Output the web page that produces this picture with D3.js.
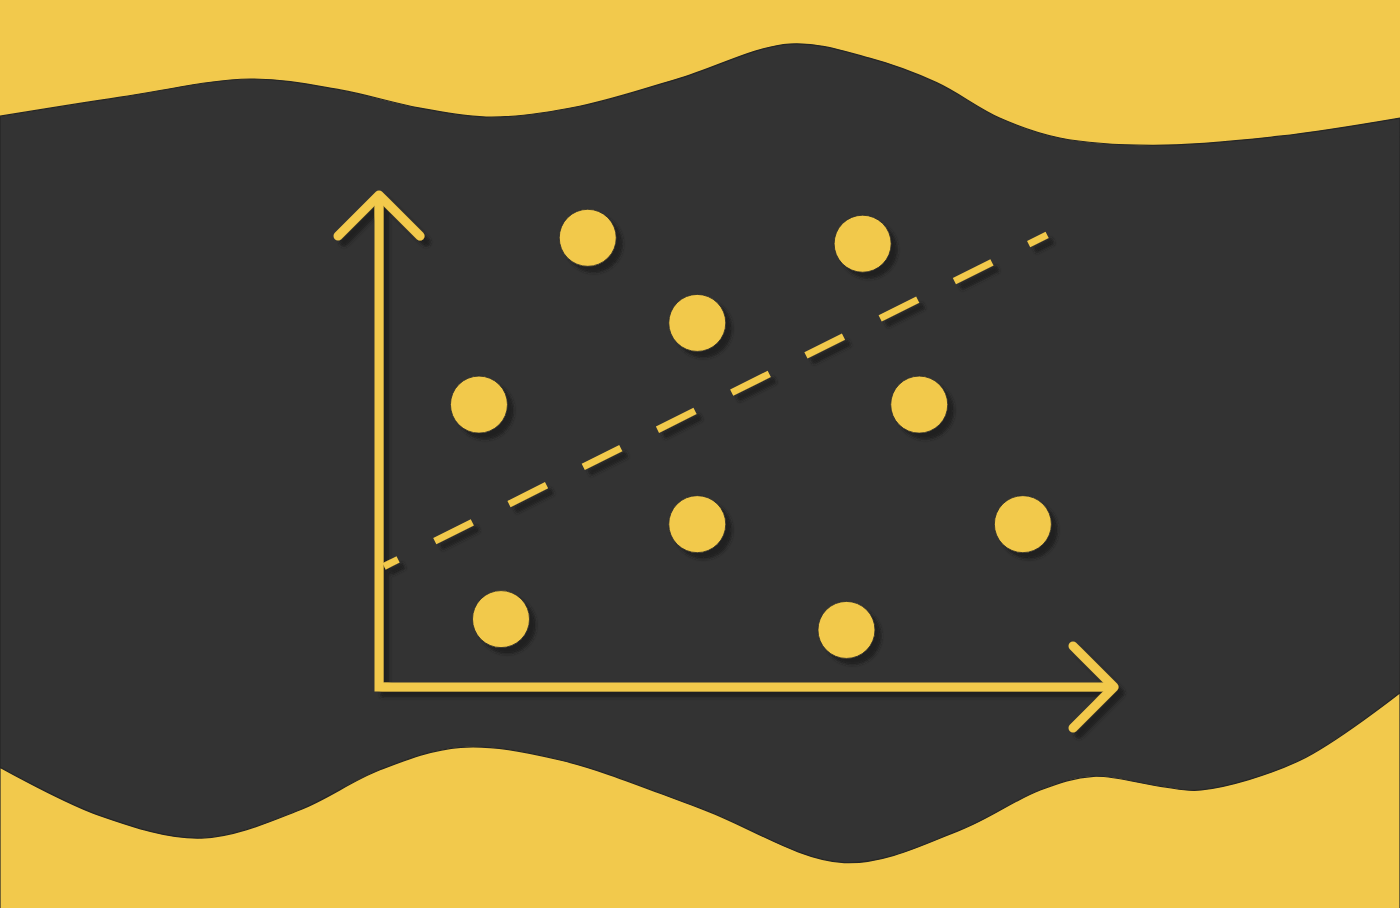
<!DOCTYPE html>
<html>
<head>
<meta charset="utf-8">
<script src="https://cdn.jsdelivr.net/npm/d3@7"></script>
<style>
html,body{margin:0;padding:0;background:#f2c94c;overflow:hidden;}
svg{display:block;}
</style>
</head>
<body>
<svg id="chart" width="1400" height="908"></svg>
<script>
// ---- data ----
const pointX = [28.4, 65.8, 43.3, 13.6, 73.5, 43.3, 87.6, 16.6, 63.6];
const pointY = [91.3, 90.1, 74.0, 57.4, 57.4, 33.1, 33.1, 13.8, 11.6];
const trendX = [0.7, 90.9];
const trendY = [24.5, 91.9];
// background band edges (percent of canvas width / height)
const waveTopX = [0, 8.6, 17.9, 24.3, 30, 35.1, 41.4, 48.6, 56.4, 62.1, 66.9, 71.4, 75.7, 82.3, 91.4, 100];
const waveTopY = [12.8, 10.7, 8.7, 9.9, 11.9, 12.9, 11.7, 8.6, 4.85, 6.4, 9.1, 13.0, 15.2, 16.0, 15.0, 13.0];
const waveBotX = [0, 7.1, 14.4, 21.4, 27.1, 32.9, 40, 50, 60.3, 68.6, 74.3, 78.1, 82.9, 85.8, 92.9, 100];
const waveBotY = [84.5, 89.8, 92.3, 89.2, 84.8, 82.3, 83.7, 89.0, 95.0, 91.4, 87.0, 85.5, 86.6, 87.0, 83.7, 76.3];

const W = 1400, H = 908;
const yellow = "#f2c94c", dark = "#333333";
const svg = d3.select("#chart");

const defs = svg.append("defs");
const f = defs.append("filter").attr("id","shadow").attr("x","-20%").attr("y","-20%").attr("width","140%").attr("height","140%");
f.append("feDropShadow").attr("dx",6).attr("dy",6).attr("stdDeviation",1.6)
  .attr("flood-color","#1a1a1a").attr("flood-opacity",0.9);

// background
const bx = d3.scaleLinear().domain([0,100]).range([0,W]);
const by = d3.scaleLinear().domain([0,100]).range([0,H]);
svg.append("rect").attr("width",W).attr("height",H).attr("fill",yellow);

const topEdge = waveTopX.map((v,i)=>[bx(v), by(waveTopY[i])]);
const botEdge = waveBotX.map((v,i)=>[bx(v), by(waveBotY[i])]);
const edgeArea = d3.area().curve(d3.curveCatmullRom.alpha(0.5)).x(d=>d[0]).y0(d=>d[1]).y1(H + 5);
svg.append("path").attr("d", edgeArea(topEdge)).attr("fill",dark)
  .attr("stroke","#262626").attr("stroke-width",1.2);
svg.append("path").attr("d", edgeArea(botEdge)).attr("fill",yellow)
  .attr("stroke","#262626").attr("stroke-width",1.2);

// chart
const x = d3.scaleLinear().domain([0,100]).range([379,1114]);
const y = d3.scaleLinear().domain([0,100]).range([687,195]);

const g = svg.append("g").attr("filter","url(#shadow)");

// dashed trend line
g.append("line")
  .attr("x1",x(trendX[0])).attr("y1",y(trendY[0]))
  .attr("x2",x(trendX[1])).attr("y2",y(trendY[1]))
  .attr("stroke",yellow).attr("stroke-width",7)
  .attr("stroke-dasharray","42 41").attr("stroke-dashoffset",26.4);

// axes
const ax = g.append("g").attr("fill","none").attr("stroke",yellow)
  .attr("stroke-width",9).attr("stroke-linecap","round").attr("stroke-linejoin","round");
ax.append("path").attr("d", d3.line()([[x(0),y(100)],[x(0),y(0)],[x(100),y(0)]]))
  .attr("stroke-linecap","butt").attr("stroke-linejoin","miter");
const ah = 41;
ax.append("path").attr("d", d3.line()([[x(0)-ah,y(100)+ah],[x(0),y(100)],[x(0)+ah,y(100)+ah]]));
ax.append("path").attr("d", d3.line()([[x(100)-ah,y(0)-ah],[x(100),y(0)],[x(100)-ah,y(0)+ah]]));

// points
g.selectAll("circle.pt").data(pointX.map((v,i)=>({x:v,y:pointY[i]})))
  .join("circle").attr("class","pt")
  .attr("cx",d=>x(d.x)).attr("cy",d=>y(d.y)).attr("r",28.5)
  .attr("fill",yellow).attr("stroke","#2a2a2a").attr("stroke-width",0.8);
</script>
</body>
</html>
